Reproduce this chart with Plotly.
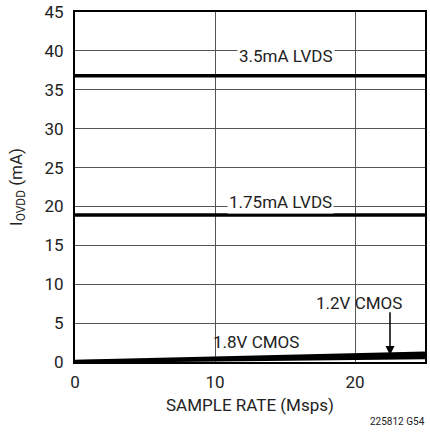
import plotly.graph_objects as go

sample_rate = [0, 25]
lvds_35 = [36.8, 36.8]
lvds_175 = [18.9, 18.9]
cmos_18 = [0.1, 1.15]
cmos_12 = [0.05, 0.55]

x_ticks = [0, 10, 20]
y_ticks = [0, 5, 10, 15, 20, 25, 30, 35, 40, 45]

FONT = "Roboto, sans-serif"

fig = go.Figure()
fig.add_trace(go.Scatter(x=sample_rate, y=cmos_12, mode="lines",
                         line=dict(color="black", width=3), showlegend=False))
fig.add_trace(go.Scatter(x=sample_rate, y=cmos_18, mode="lines", fill="tonexty",
                         fillcolor="black",
                         line=dict(color="black", width=3), showlegend=False))
fig.add_trace(go.Scatter(x=sample_rate, y=lvds_175, mode="lines",
                         line=dict(color="black", width=3.5), showlegend=False))
fig.add_trace(go.Scatter(x=sample_rate, y=lvds_35, mode="lines",
                         line=dict(color="black", width=3.5), showlegend=False))

fig.update_layout(
    width=430, height=448,
    margin=dict(l=75, r=5, t=12, b=86),
    paper_bgcolor="white", plot_bgcolor="white",
    font=dict(family=FONT, size=17, color="#222"),
    xaxis=dict(range=[0, 25], tickvals=x_ticks, showgrid=True, gridcolor="#555",
               gridwidth=1, zeroline=False, showline=True, linecolor="black",
               linewidth=2, mirror=True, ticks="outside", ticklen=4, tickcolor="rgba(0,0,0,0)",
               tickfont=dict(size=17), automargin=False,
               title=dict(text="SAMPLE RATE (Msps)", font=dict(size=17), standoff=8)),
    yaxis=dict(range=[0, 45], tickvals=y_ticks, showgrid=True, gridcolor="#555",
               gridwidth=1, zeroline=False, showline=True, linecolor="black",
               linewidth=2, mirror=True, ticks="outside", ticklen=6, tickcolor="rgba(0,0,0,0)",
               tickfont=dict(size=17), automargin=False,
               title=dict(text="I<sub>OVDD</sub> (mA)", font=dict(size=17), standoff=18)),
    annotations=[
        dict(x=15.1, y=39.4, text="3.5mA LVDS", showarrow=False, bgcolor="white",
             font=dict(size=17), borderpad=1),
        dict(x=14.7, y=20.6, text="1.75mA LVDS", showarrow=False, bgcolor="white",
             font=dict(size=17), borderpad=1),
        dict(x=12.9, y=2.6, text="1.8V CMOS", showarrow=False, font=dict(size=17)),
        dict(x=20.3, y=7.6, text="1.2V CMOS", showarrow=False, font=dict(size=17)),
        dict(x=22.5, y=0.9, ax=22.5, ay=6.6, axref="x", ayref="y", xref="x", yref="y",
             text="", showarrow=True, arrowhead=2, arrowsize=1.2, arrowwidth=1.5,
             arrowcolor="black"),
        dict(x=1.0, y=0.0, xref="paper", yref="paper", xanchor="right", yanchor="top",
             xshift=2, yshift=-52, text="225812 G54", showarrow=False,
             font=dict(size=10)),
    ],
)

fig.write_html("out.html", config={"displayModeBar": False},
               post_script="document.body.style.margin='0';document.body.style.overflow='hidden';")
